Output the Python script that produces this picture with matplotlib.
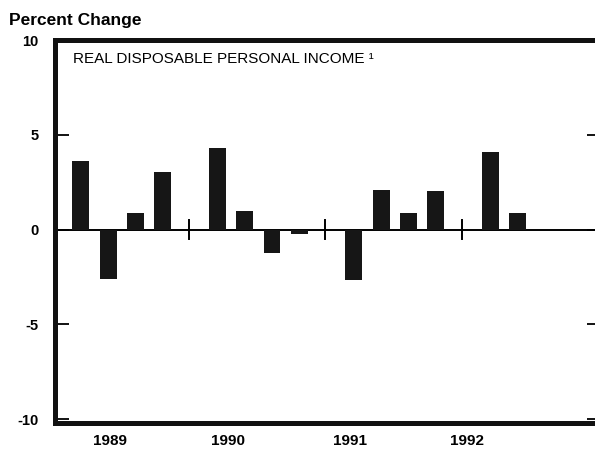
import matplotlib
matplotlib.use("Agg")
import matplotlib.pyplot as plt
import numpy as np

plt.rcParams['font.family'] = ['Liberation Sans', 'DejaVu Sans']

# ---- data ----
years = ["1989", "1990", "1991", "1992"]
quarters_per_year = 4
values = [3.6, -2.6, 0.85, 3.05,   # 1989
          4.3, 1.0, -1.25, -0.25,  # 1990
          -2.65, 2.1, 0.9, 2.05,   # 1991
          4.1, 0.85]               # 1992 (Q1, Q2)
yticks = [-10, -5, 0, 5, 10]
title = "REAL DISPOSABLE PERSONAL INCOME \u00b9"
ylabel = "Percent Change"

# ---- layout ----
W, H = 595, 455
fig = plt.figure(figsize=(W / 100, H / 100), dpi=100)
ax_left, ax_right = 55, 601
ax_top, ax_bot = 40, 423
ax = fig.add_axes([ax_left / W, 1 - ax_bot / H, (ax_right - ax_left) / W, (ax_bot - ax_top) / H])

slot = 5  # units per year (4 quarters + gap)
idx = np.arange(len(values))
xpos = (idx // quarters_per_year) * slot + (idx % quarters_per_year) + 0.95
ax.bar(xpos, values, width=0.62, color="#161616", edgecolor="none", zorder=3)

ax.set_xlim(0, slot * len(years))
ax.set_ylim(-10.2, 10.0)

# zero line and year dividers
ax.axhline(0, color="black", lw=1.4, zorder=2)
for k in range(1, len(years)):
    ax.plot([k * slot - 0.1, k * slot - 0.1], [-0.5, 0.5], color="black", lw=1.4, zorder=2)

# spines
for s in ["left", "top", "bottom", "right"]:
    ax.spines[s].set_linewidth(3.6)
    ax.spines[s].set_color("#111111")

ax.set_yticks(yticks)
ax.set_yticklabels([str(t) for t in yticks], fontsize=10.5, fontweight="bold")
ax.tick_params(axis="y", direction="in", length=10, width=1.3, pad=12,
               right=True, left=True)

year_label_pos = [2.0, 6.35, 10.8, 15.1]
ax.set_xticks(year_label_pos)
ax.set_xticklabels(years, fontsize=11, fontweight="bold")
ax.tick_params(axis="x", length=0, pad=8)

ax.text(0.65, 9.0, title, fontsize=11, ha="left", va="center")

fig.text(9 / W, 1 - 25 / H, ylabel, fontsize=12.5, fontweight="bold",
         ha="left", va="baseline")

fig.savefig("out.png", dpi=100)
